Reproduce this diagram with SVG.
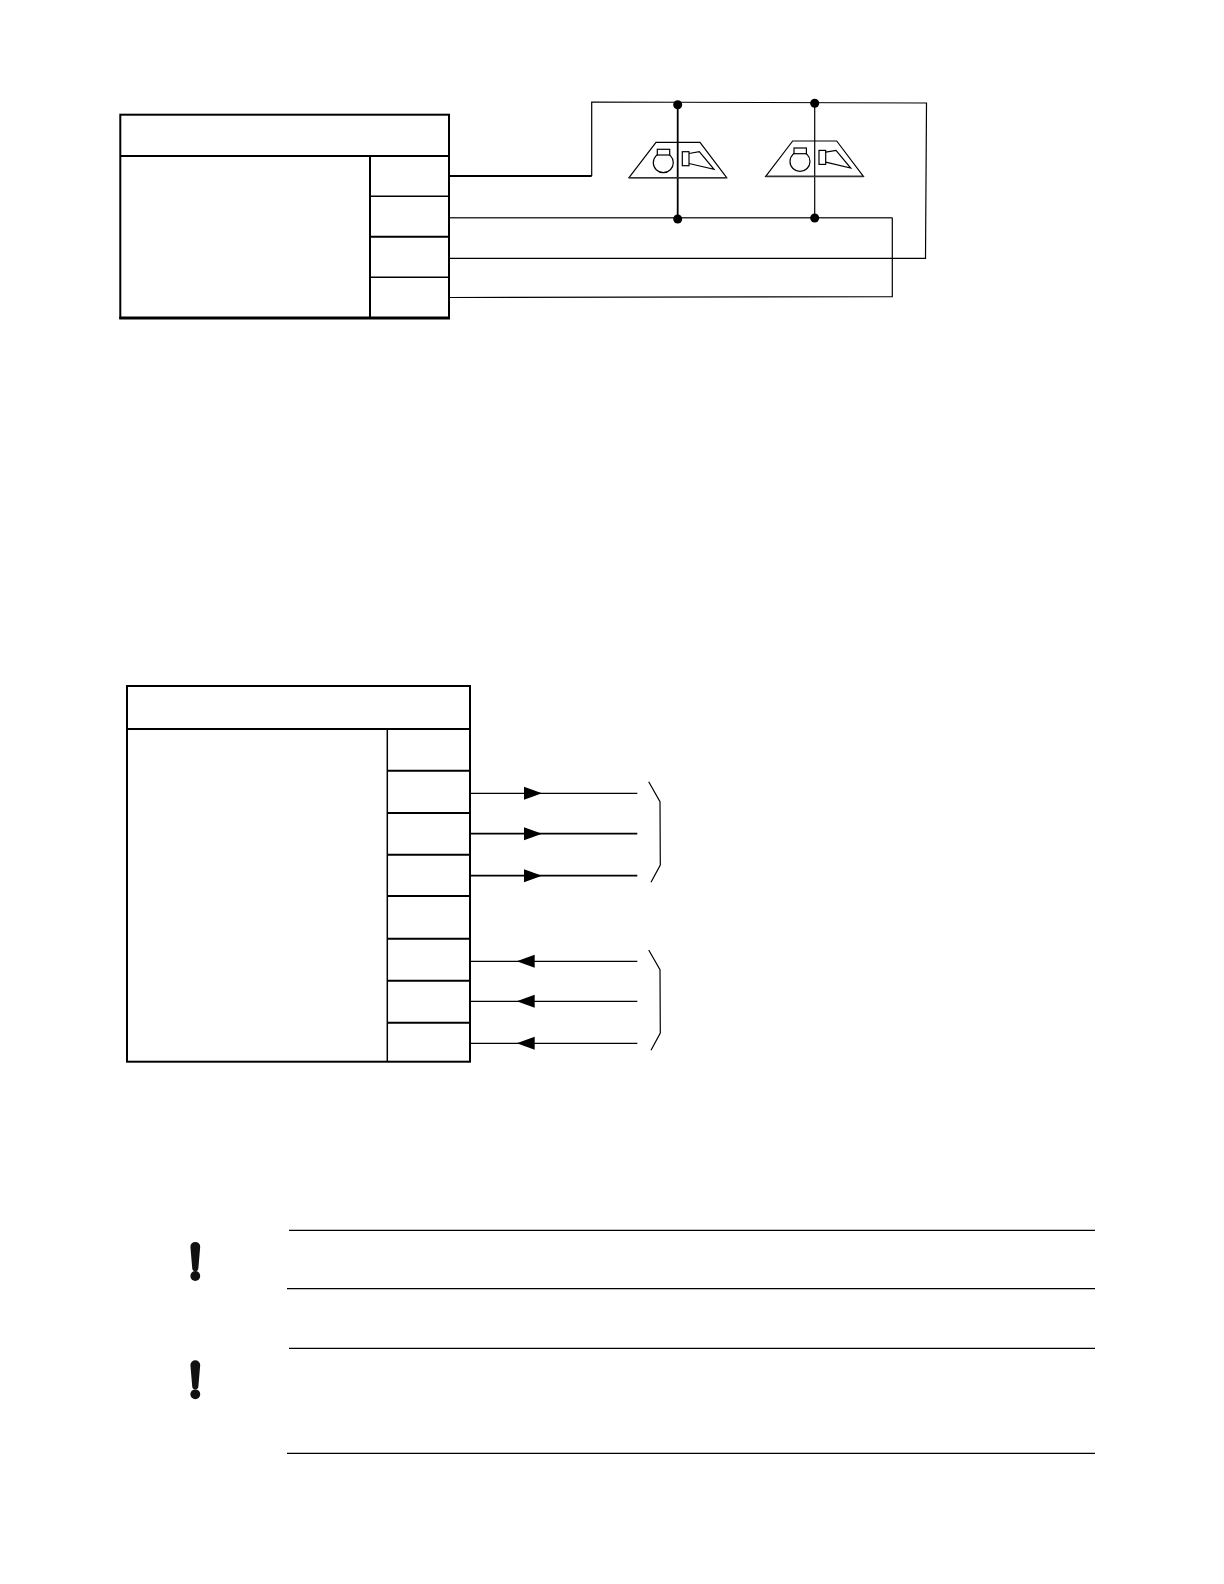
<svg xmlns="http://www.w3.org/2000/svg" width="1224" height="1584" viewBox="0 0 1224 1584">
<style>
.box{fill:#fff;stroke:#000;stroke-width:2}
.div{fill:none;stroke:#000;stroke-width:1.5}
.divb{fill:none;stroke:#000;stroke-width:2}
.w{fill:none;stroke:#000;stroke-width:1.2}
.wg{fill:none;stroke:#333;stroke-width:1.5}
.wb{fill:none;stroke:#000;stroke-width:1.8}
.sym{fill:none;stroke:#000;stroke-width:1.2}
.symf{fill:#fff;stroke:#000;stroke-width:1.2}
.dot{fill:#000}
.rule{stroke:#000;stroke-width:1.2;fill:none}
.ex{fill:#111}
</style>
<defs>
<g id="lamp">
<path class="sym" d="M629 177.7L656 142.3H700L726.7 177.7Z"/>
<path class="wg" d="M629 177.7H726.7"/>
<circle class="sym" cx="663.3" cy="162.7" r="10"/>
<rect class="symf" x="657.3" y="149.3" width="12.4" height="5.7"/>
<rect class="sym" x="682.3" y="151.7" width="6.7" height="14"/>
<path class="sym" d="M689 153.5L699.3 151.7L714 169.3L689 163.5"/>
</g>
<g id="excl">
<path class="ex" d="M190.4 1246.8a4.9 4.9 0 0 1 9.8 0L198.4 1268a3.1 3.1 0 0 1-6.2 0Z"/>
<circle class="ex" cx="195.3" cy="1276" r="4.9"/>
</g>
<polygon id="ar" points="0,-6.5 18,0 0,6.5" fill="#000"/>
<polygon id="al" points="0,0 18,-6.5 18,6.5" fill="#000"/>
</defs>
<g id="connectors">
<path class="wb" d="M449 176H591.7"/>
<path class="w" d="M591.7 176V102L926.5 103L925.5 258.3H449"/>
<path class="wg" d="M449 217.7H892.3"/>
<path class="w" d="M892.3 217.7V296.7L449 297.5"/>
<path class="wb" d="M677.7 104.7V219"/>
<path class="w" d="M814.7 103.3V218"/>
<circle class="dot" cx="677.7" cy="104.7" r="4.5"/>
<circle class="dot" cx="814.7" cy="103.3" r="4.5"/>
<circle class="dot" cx="677.7" cy="219" r="4.5"/>
<circle class="dot" cx="814.7" cy="218" r="4.5"/>
<path class="w" d="M470 793.3H637.3"/>
<path class="wb" d="M470 833.7H637.3"/>
<path class="wb" d="M470 875.7H637.3"/>
<path class="w" d="M470 961.3H637.3"/>
<path class="w" d="M470 1001.3H637.3"/>
<path class="w" d="M470 1043.3H637.3"/>
<use href="#ar" x="524" y="793.3"/>
<use href="#ar" x="524" y="833.7"/>
<use href="#ar" x="524" y="875.7"/>
<use href="#al" x="516.7" y="961.3"/>
<use href="#al" x="516.7" y="1001.3"/>
<use href="#al" x="516.7" y="1043.3"/>
</g>
<g id="node-box-top">
<rect class="box" x="120.3" y="114.7" width="328.7" height="203.3"/>
<path class="divb" d="M120.3 156H449M370 156V318"/>
<path class="div" d="M370 196.3H449M370 277.3H449"/>
<path class="divb" d="M370 236.7H449"/>
<path d="M119.3 318H450" fill="none" stroke="#000" stroke-width="3"/>
</g>
<g id="node-lamp-1"><use href="#lamp"/></g>
<g id="node-lamp-2"><use href="#lamp" x="136.7" y="-1.3"/></g>
<g id="node-box-bottom">
<rect class="box" x="127" y="686" width="343" height="375.7"/>
<path class="divb" d="M127 729H470"/>
<path class="div" d="M387.3 729V1061.7"/>
<path class="divb" d="M387.3 770.7H470M387.3 813H470M387.3 854.7H470M387.3 896H470M387.3 938.7H470M387.3 980.7H470M387.3 1022.7H470"/>
</g>
<g id="node-brace-1"><path class="w" d="M648.7 781.7L660 801.7L660.3 865L651 882.3"/></g>
<g id="node-brace-2"><path class="w" d="M648.7 950L660 969.7L660.3 1033L651 1050.3"/></g>
<g id="node-note-1">
<use href="#excl"/>
<path class="rule" d="M289 1230.3H1095M287 1288.7H1095"/>
</g>
<g id="node-note-2">
<use href="#excl" y="118.3"/>
<path class="rule" d="M289 1348.3H1095M287 1453.3H1095"/>
</g>
</svg>
